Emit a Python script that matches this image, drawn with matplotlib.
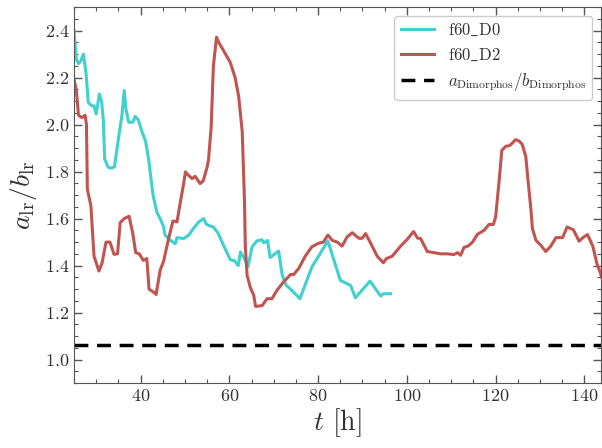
import matplotlib
matplotlib.use("Agg")
import matplotlib.pyplot as plt
from matplotlib.ticker import MultipleLocator

# f60_D0 run
t_d0 = [25.0, 25.5, 26.0, 26.5, 27.1, 27.7, 28.2, 29.0, 29.5, 30.0,
        30.7, 31.2, 31.6, 31.9, 32.7, 33.4, 34.1, 35.0, 35.8, 36.3,
        36.7, 37.3, 38.2, 38.8, 39.5, 40.3, 41.1, 41.8, 42.8, 43.7,
        44.4, 45.2, 45.5, 46.7, 47.8, 48.2, 49.7, 50.8, 51.9, 53.1,
        54.2, 54.8, 55.5, 56.4, 57.4, 58.7, 60.2, 61.2, 62.0, 62.5,
        63.4, 64.2, 65.1, 66.2, 67.3, 67.8, 68.6, 69.2, 71.1, 71.9,
        72.8, 74.1, 75.9, 78.6, 82.2, 85.0, 87.3, 88.4, 91.7, 94.1,
        94.7, 96.3]
r_d0 = [2.40, 2.28, 2.26, 2.27, 2.30, 2.22, 2.095, 2.08, 2.08, 2.045,
        2.13, 2.10, 2.02, 1.853, 1.818, 1.815, 1.82, 1.94, 2.04, 2.145,
        2.066, 2.01, 2.01, 2.035, 2.02, 1.97, 1.93, 1.853, 1.70, 1.625,
        1.60, 1.564, 1.53, 1.508, 1.493, 1.519, 1.515, 1.529, 1.558, 1.586,
        1.60, 1.576, 1.57, 1.564, 1.54, 1.486, 1.425, 1.42, 1.40, 1.458,
        1.43, 1.395, 1.479, 1.505, 1.51, 1.497, 1.507, 1.434, 1.462, 1.36,
        1.316, 1.294, 1.259, 1.394, 1.505, 1.337, 1.316, 1.263, 1.334, 1.27,
        1.28, 1.28]

# f60_D2 run
t_d2 = [25.0, 25.5, 26.0, 26.8, 27.5, 27.8, 28.0, 28.8, 29.5, 30.6,
        31.3, 32.2, 33.1, 34.0, 34.8, 35.4, 36.3, 37.4, 38.2, 38.9,
        39.7, 40.6, 41.4, 41.9, 42.9, 43.5, 44.4, 45.2, 46.3, 47.3,
        48.2, 48.9, 49.7, 50.1, 50.5, 51.6, 52.3, 53.4, 54.1, 55.0,
        55.3, 55.9, 56.4, 57.1, 57.6, 58.7, 60.2, 61.3, 62.1, 62.9,
        63.4, 63.6, 64.0, 64.7, 65.5, 65.9, 67.4, 68.5, 69.6, 70.7,
        72.2, 73.8, 74.5, 75.6, 77.1, 78.6, 80.1, 81.2, 82.2, 83.2,
        84.3, 85.4, 86.5, 87.7, 89.2, 89.9, 90.7, 91.8, 93.3, 94.7,
        95.4, 96.7, 98.6, 100.1, 101.5, 102.4, 103.1, 104.6, 106.1, 107.6,
        109.1, 110.6, 111.4, 112.1, 112.9, 113.8, 114.8, 115.9, 117.4, 118.5,
        119.5, 120.0, 120.8, 121.4, 122.3, 123.1, 123.8, 124.5, 125.3, 126.0,
        126.8, 127.3, 127.9, 128.3, 129.1, 130.2, 131.3, 132.4, 133.6, 135.1,
        136.1, 137.5, 138.8, 139.8, 140.7, 141.9, 142.8, 143.4, 144.1]
r_d2 = [2.19, 2.15, 2.04, 2.03, 2.04, 2.00, 1.725, 1.654, 1.44, 1.377,
        1.41, 1.50, 1.50, 1.448, 1.45, 1.583, 1.60, 1.61, 1.54, 1.455,
        1.45, 1.422, 1.43, 1.30, 1.287, 1.277, 1.38, 1.42, 1.515, 1.59,
        1.586, 1.664, 1.749, 1.799, 1.79, 1.77, 1.78, 1.749, 1.76, 1.82,
        1.85, 1.99, 2.25, 2.372, 2.35, 2.315, 2.265, 2.20, 2.12, 1.97,
        1.678, 1.479, 1.358, 1.308, 1.273, 1.226, 1.23, 1.259, 1.259, 1.294,
        1.33, 1.362, 1.362, 1.387, 1.44, 1.48, 1.495, 1.50, 1.53, 1.507,
        1.50, 1.483, 1.521, 1.54, 1.516, 1.516, 1.536, 1.497, 1.44, 1.412,
        1.43, 1.44, 1.483, 1.512, 1.545, 1.517, 1.515, 1.46, 1.455, 1.45,
        1.45, 1.447, 1.455, 1.444, 1.478, 1.483, 1.50, 1.533, 1.55, 1.575,
        1.575, 1.607, 1.763, 1.891, 1.908, 1.91, 1.922, 1.936, 1.93, 1.916,
        1.864, 1.763, 1.65, 1.557, 1.507, 1.486, 1.46, 1.482, 1.519, 1.519,
        1.564, 1.553, 1.504, 1.521, 1.532, 1.483, 1.41, 1.38, 1.34]

dimorphos_ratio = 1.06

plt.rcParams["font.family"] = "serif"
plt.rcParams["font.serif"] = ["cmr10", "DejaVu Serif"]
plt.rcParams["mathtext.fontset"] = "cm"
plt.rcParams["axes.formatter.use_mathtext"] = True

fig = plt.figure(figsize=(6.02, 4.48), dpi=100)
ax = fig.add_axes([0.123, 0.145, 0.875, 0.839])

ax.plot(t_d0, r_d0, color="#40d0d0", lw=2.2, label=r"$\mathrm{f60\_D0}$")
ax.plot(t_d2, r_d2, color="#c25450", lw=2.2, label=r"$\mathrm{f60\_D2}$")
ax.axhline(dimorphos_ratio, color="k", lw=2.5, ls=(0, (4, 2.5)),
           label=r"$a_{\rm Dimorphos}/b_{\rm Dimorphos}$")

ax.set_xlim(25, 143.7)
ax.set_ylim(0.9, 2.5)
ax.xaxis.set_major_locator(MultipleLocator(20))
ax.xaxis.set_minor_locator(MultipleLocator(5))
ax.yaxis.set_major_locator(MultipleLocator(0.2))
ax.yaxis.set_minor_locator(MultipleLocator(0.05))
ax.tick_params(which="both", direction="in", top=True, right=True,
               colors="#555555", labelcolor="#333333", labelsize=13)
ax.tick_params(which="major", length=6, width=1)
ax.tick_params(which="minor", length=3, width=0.8)
for spine in ax.spines.values():
    spine.set_color("#555555")

ax.set_xlabel(r"$t$ [h]", fontsize=20, color="#333333", labelpad=2)
ax.set_ylabel(r"$a_{\rm lr}/b_{\rm lr}$", fontsize=20, color="#333333", labelpad=4)

ax.legend(loc="upper right", fontsize=12, handlelength=2.0, framealpha=1,
          edgecolor="#cccccc", labelcolor="#333333")

fig.savefig("out.png", dpi=100)
